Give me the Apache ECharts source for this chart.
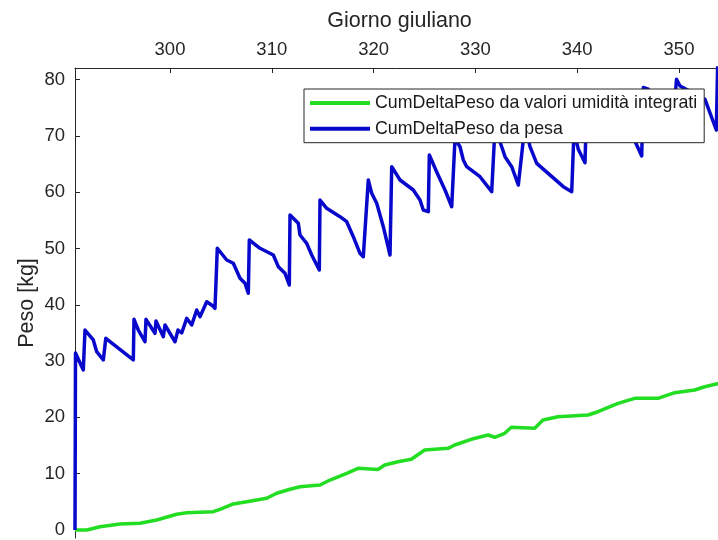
<!DOCTYPE html>
<html>
<head>
<meta charset="utf-8">
<script src="https://cdn.jsdelivr.net/npm/echarts@6/dist/echarts.min.js"></script>
<style>
  html, body { margin: 0; padding: 0; background: #fff; }
  #chart { width: 718px; height: 540px; }
</style>
</head>
<body>
<div id="chart"></div>
<script>
// Julian day (x) and cumulative weight change in kg (y)
const umiditaGiorni = [290.668, 291.817, 293.124, 295.088, 297.053, 298.694, 300.658, 301.640, 304.253, 304.912,
  306.218, 307.534, 309.499, 310.481, 311.788, 312.770, 314.735, 315.717, 317.358, 318.468, 320.432, 321.090,
  322.397, 323.703, 325.020, 327.308, 327.967, 329.597, 331.238, 331.896, 332.878, 333.527, 335.825, 336.640,
  338.114, 341.061, 342.043, 344.008, 345.648, 347.937, 349.578, 351.542, 352.525, 353.664, 354.420];
const umiditaPeso = [0, 0, 0.59, 1.07, 1.19, 1.78, 2.79, 3.07, 3.25, 3.68,
  4.62, 5.03, 5.63, 6.52, 7.23, 7.69, 7.99, 8.88, 10.07, 10.96, 10.75, 11.55,
  12.13, 12.56, 14.21, 14.51, 15.10, 16.11, 16.87, 16.47, 17.18, 18.24, 18.06, 19.54,
  20.12, 20.43, 21.01, 22.50, 23.39, 23.39, 24.39, 24.87, 25.45, 25.93, 26.10];

const pesaGiorni = [290.668, 290.717, 291.483, 291.650, 292.466, 292.800, 293.448, 293.615, 293.694, 296.395,
  296.464, 296.886, 297.544, 297.642, 298.527, 298.625, 299.342, 299.509, 300.491, 300.786,
  301.149, 301.640, 302.132, 302.623, 302.947, 303.605, 304.224, 304.420, 304.646, 305.570,
  306.218, 306.876, 307.367, 307.692, 307.790, 308.841, 310.147, 310.639, 311.297, 311.719,
  311.788, 312.603, 312.770, 313.428, 313.919, 314.666, 314.735, 315.393, 316.699, 317.358,
  318.006, 318.664, 318.988, 319.479, 319.813, 320.305, 320.953, 321.611, 321.778, 322.593,
  323.900, 324.558, 324.882, 325.373, 325.472, 326.198, 327.014, 327.672, 327.996, 328.487,
  328.811, 329.145, 330.452, 331.601, 331.925, 332.583, 332.908, 333.566, 334.214, 334.872,
  335.363, 336.022, 338.635, 339.460, 339.686, 340.108, 340.766, 340.933, 342.240, 344.204,
  345.511, 346.336, 346.493, 346.984, 348.134, 349.312, 349.754, 350.098, 352.554, 353.664,
  353.811];
const pesaPeso = [0, 31.44, 28.42, 35.52, 33.75, 31.67, 30.20, 29.89, 34.05, 30.20,
  37.42, 35.52, 33.44, 37.42, 34.94, 37.12, 34.33, 36.41, 33.44, 35.52,
  34.99, 37.60, 36.41, 39.08, 37.89, 40.55, 39.79, 39.38, 50.04, 47.96,
  47.37, 44.71, 43.82, 42.04, 51.51, 50.04, 48.85, 46.77, 45.60, 43.52,
  55.95, 54.48, 52.40, 50.92, 48.85, 46.18, 58.61, 57.14, 55.65, 54.76,
  52.10, 49.15, 48.54, 62.17, 59.80, 58.03, 53.87, 48.85, 64.53, 62.17,
  60.39, 58.61, 56.84, 56.54, 66.61, 63.59, 60.39, 57.42, 69.50, 68.08,
  65.72, 64.53, 62.75, 60.09, 71.50, 68.08, 66.31, 64.53, 61.28, 72.00,
  68.08, 65.13, 60.98, 60.09, 71.00, 67.62, 65.24, 76.00, 73.50, 71.50,
  69.70, 66.43, 78.60, 78.30, 74.00, 70.00, 80.05, 78.86, 76.50, 71.05,
  84.00];

const giorniTicks = [300, 310, 320, 330, 340, 350];
const pesoTicks = [0, 10, 20, 30, 40, 50, 60, 70, 80];

const serieNomi = ['CumDeltaPeso da valori umidità integrati', 'CumDeltaPeso da pesa'];

const zip = (xs, ys) => xs.map((x, i) => [x, ys[i]]);

const axisColor = '#262626';
const fontFamily = '"Liberation Sans", Arial, Helvetica, sans-serif';

const chart = echarts.init(document.getElementById('chart'), null, { renderer: 'canvas' });

chart.setOption({
  backgroundColor: '#ffffff',
  animation: false,
  textStyle: { fontFamily: fontFamily },
  grid: { left: 75, top: 68, right: 0, bottom: 2, containLabel: false },
  legend: {
    orient: 'vertical',
    left: 304,
    top: 89,
    padding: [4, 7, 4, 6],
    itemWidth: 60,
    itemHeight: 4,
    itemGap: 5.7,
    icon: 'rect',
    backgroundColor: '#ffffff',
    borderColor: axisColor,
    borderWidth: 1,
    borderRadius: 0,
    textStyle: { fontSize: 17.8, color: '#1a1a1a', lineHeight: 20, fontFamily: fontFamily },
    data: serieNomi
  },
  xAxis: {
    type: 'value',
    position: 'top',
    min: umiditaGiorni[0],
    max: 353.83,
    name: 'Giorno giuliano',
    nameLocation: 'middle',
    nameGap: 36,
    nameMoveOverlap: false,
    nameTextStyle: { fontSize: 21.5, color: axisColor, fontFamily: fontFamily, padding: [0, 0, 0, 6] },
    axisLine: { show: true, onZero: false, lineStyle: { color: axisColor, width: 1 } },
    axisTick: { show: true, inside: true, length: 5, lineStyle: { color: axisColor }, customValues: giorniTicks },
    axisLabel: { fontSize: 18.5, color: axisColor, margin: 9, customValues: giorniTicks, fontFamily: fontFamily },
    splitLine: { show: false }
  },
  yAxis: {
    type: 'value',
    min: -1.42,
    max: 82.06,
    name: 'Peso [kg]',
    nameLocation: 'middle',
    nameGap: 37,
    nameRotate: 90,
    nameMoveOverlap: false,
    nameTextStyle: { fontSize: 21.5, color: axisColor, fontFamily: fontFamily },
    axisLine: { show: true, onZero: false, lineStyle: { color: axisColor, width: 1 } },
    axisTick: { show: true, inside: true, length: 5, lineStyle: { color: axisColor }, customValues: pesoTicks },
    axisLabel: { fontSize: 18.5, color: axisColor, margin: 10, customValues: pesoTicks, fontFamily: fontFamily },
    splitLine: { show: false }
  },
  series: [
    {
      name: serieNomi[0],
      type: 'line',
      data: zip(umiditaGiorni, umiditaPeso),
      symbol: 'none',
      color: '#22dd22',
      lineStyle: { width: 3.5, color: '#22dd22' },
      clip: true,
      z: 2
    },
    {
      name: serieNomi[1],
      type: 'line',
      data: zip(pesaGiorni, pesaPeso),
      symbol: 'none',
      color: '#0808cc',
      lineStyle: { width: 3.5, color: '#0808cc', join: 'round' },
      clip: true,
      z: 3
    }
  ]
});
</script>
</body>
</html>
